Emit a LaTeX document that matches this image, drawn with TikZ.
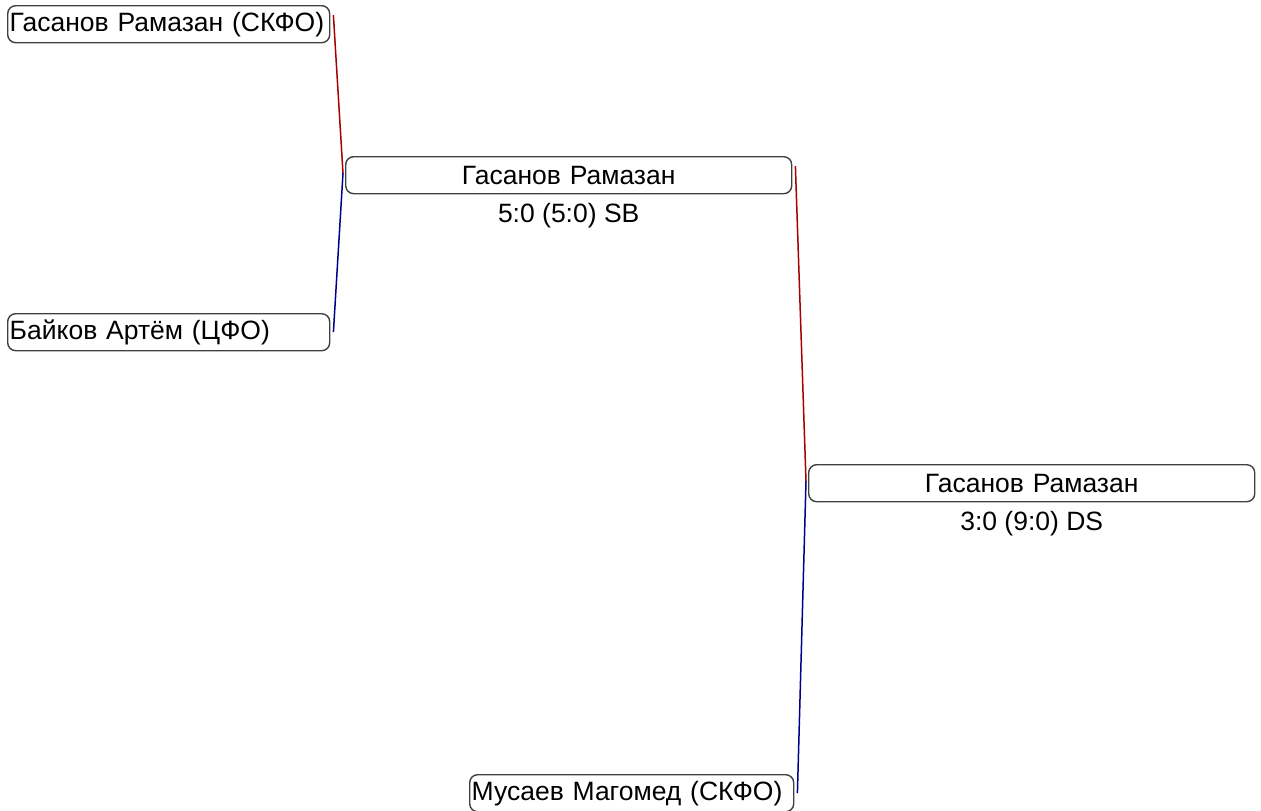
\documentclass[tikz,border=0pt]{standalone}
\usepackage{fontspec}
\setmainfont{Liberation Sans}
\usetikzlibrary{positioning}
\usetikzlibrary{calc}

\begin{document}
\begin{tikzpicture}[x=1pt, y=-1pt,
    player/.style={draw=black!75, rounded corners=8, line width=1.4pt,
        inner sep=2pt, minimum height=37pt, text width=318pt, align=left,
        anchor=north west, font=\fontsize{26.5}{30}\selectfont},
    winner/.style={player, text width=442pt, align=center},
    score/.style={inner sep=0pt, font=\fontsize{26.5}{30}\selectfont},
    redline/.style={draw=red!65!black, line width=1.5pt},
    blueline/.style={draw=blue!55!black, line width=1.5pt}]
    \newcommand\rise{9}
    \newcommand\gap{3}

    \useasboundingbox (0, 0) rectangle (1261, 811);

    % first round
    \node[player] (gasanov) at (7, 5) {Гасанов Рамазан (СКФО)};
    \node[player] (baikov) at (7, 313) {Байков Артём (ЦФО)};
    \node[player, text width=320pt] (musaev) at (469, 774)
        {Мусаев Магомед (СКФО)};

    % winners
    \node[winner] (semi) at (345, 156) {Гасанов Рамазан};
    \node[score, below=9pt of semi] (semi-score) {5:0 (5:0) SB};

    \node[winner] (final) at (808, 464) {Гасанов Рамазан};
    \node[score, below=9pt of final] (final-score) {3:0 (9:0) DS};

    \coordinate (semi-in) at ($(semi.west)+(-2, -2)$);
    \coordinate (final-in) at ($(final.west)+(-2, -2)$);

    \draw[redline] ($(gasanov.east)+(\gap, -\rise)$) -- (semi-in);
    \draw[blueline] (semi-in) -- ($(baikov.east)+(\gap, 0)$);

    \draw[redline] ($(semi.east)+(\gap, -\rise)$) -- (final-in);
    \draw[blueline] (final-in) -- ($(musaev.east)+(\gap, 0)$);
\end{tikzpicture}
\end{document}
